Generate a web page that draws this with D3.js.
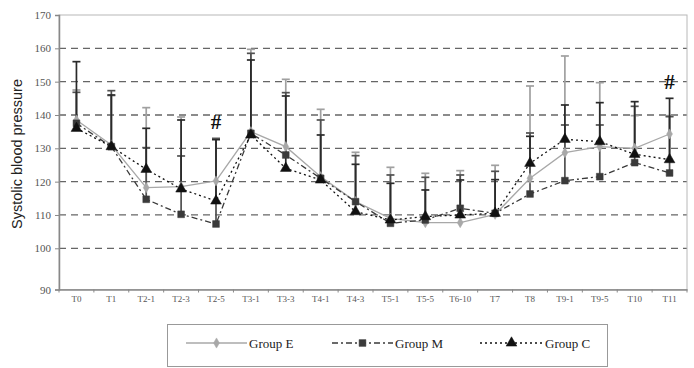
<!DOCTYPE html>
<html><head><meta charset="utf-8">
<script src="https://cdn.jsdelivr.net/npm/d3@7"></script>
<style>body{margin:0;background:#fff}svg{display:block}</style>
</head><body>
<script>
const categories = ["T0","T1","T2-1","T2-3","T2-5","T3-1","T3-3","T4-1","T4-3","T5-1","T5-5","T6-10","T7","T8","T9-1","T9-5","T10","T11"];
const groupE = [138.5,131,118.2,118.5,120.2,135,130.5,121.5,114,109,107.7,107.7,110.2,121,128.7,130.5,130,134.3];
const groupM = [137.5,130.5,114.7,110.2,107.3,134.5,128,121,114,107.5,108.5,112,110.5,116.3,120.3,121.5,125.7,122.6];
const groupC = [136,130.5,123.7,117.8,114.2,134,124,120.5,111,108.5,109.5,110,110.5,125.5,132.7,132,128.2,126.6];
const topE = [147.5,145.8,142.2,139.4,133.1,159.7,150.7,141.7,128.8,124.3,122.5,123.3,124.9,148.7,157.7,149.7,139.8,139.8];
const topM = [146.8,147.3,130.2,127.7,132.8,158.5,146.7,138.5,127.8,122.0,121.3,122.0,123.1,134.6,137.0,137.0,142.6,139.5];
const topC = [156.0,146.0,136.0,138.5,132.6,156.5,145.7,134.0,125.2,119.5,117.5,120.5,120.6,133.6,143.0,143.7,144.0,145.0];
const yTicks = [90,100,110,120,130,140,150,160,170];
const hashCats = ["T2-5","T11"];
const seriesNames = ["Group E","Group M","Group C"];

const W = 694, H = 368;
const L = 59, R = 687, T = 15, B = 289.5;
const svg = d3.select("body").append("svg").attr("width", W).attr("height", H);

const x = d3.scaleBand().domain(categories).range([L, R]);
const y = d3.scaleLinear().domain([90, 100, 170]).range([B, 248.3, T]);
const cx = c => x(c) + x.bandwidth() / 2;

// grid lines
svg.append("g").selectAll("line").data(yTicks.filter(v => v > 90 && v < 170)).join("line")
  .attr("x1", L).attr("x2", R).attr("y1", d => y(d)).attr("y2", d => y(d))
  .attr("stroke", "#666").attr("stroke-width", 1.3).attr("stroke-dasharray", "7,5");

// plot border
svg.append("rect").attr("x", L).attr("y", T).attr("width", R - L).attr("height", B - T)
  .attr("fill", "none").attr("stroke", "#b8b8b8").attr("stroke-width", 1);

// y axis
const yAxis = d3.axisLeft(y).tickValues(yTicks).tickSize(4).tickPadding(4);
const ga = svg.append("g").attr("transform", `translate(${L},0)`).call(yAxis);
ga.select(".domain").attr("stroke", "#888").attr("stroke-width", 1.5);
ga.selectAll(".tick line").attr("stroke", "#888");
ga.selectAll("text").attr("font-family", "Liberation Serif, serif").attr("font-size", 11).attr("fill", "#555");

// x axis
const xAxis = d3.axisBottom(x).tickSize(0).tickPadding(6);
const gx = svg.append("g").attr("transform", `translate(0,${B})`).call(xAxis);
gx.select(".domain").attr("stroke", "#888").attr("stroke-width", 1.5);
gx.selectAll("text").attr("font-family", "Liberation Serif, serif").attr("font-size", 9).attr("fill", "#555");
// boundary ticks
const bounds = categories.map(c => x(c)).concat([R]);
svg.append("g").selectAll("line").data(bounds).join("line")
  .attr("x1", d => d).attr("x2", d => d).attr("y1", B).attr("y2", B + 3)
  .attr("stroke", "#888");

// y label
svg.append("text").attr("transform", `translate(22,154) rotate(-90)`)
  .attr("text-anchor", "middle").attr("font-family", "Liberation Sans, Arial, sans-serif")
  .attr("font-size", 14.5).attr("fill", "#222").text("Systolic blood pressure");

const series = [
  {name: seriesNames[0], vals: groupE, tops: topE, color: "#a8a8a8", barColor: "#a0a0a0", dash: null, shape: "diamond"},
  {name: seriesNames[1], vals: groupM, tops: topM, color: "#3a3a3a", barColor: "#505050", dash: "6,3,2,3", shape: "square"},
  {name: seriesNames[2], vals: groupC, tops: topC, color: "#111", barColor: "#2a2a2a", dash: "2,3", shape: "triangle"}
];

// lines
const line = d3.line().x((d, i) => cx(categories[i])).y(d => y(d));
series.forEach(s => {
  svg.append("path").datum(s.vals).attr("d", line).attr("fill", "none")
    .attr("stroke", s.color).attr("stroke-width", 1.3)
    .attr("stroke-dasharray", s.dash);
});

// error bars
series.forEach(s => {
  const g = svg.append("g");
  categories.forEach((c, i) => {
    g.append("line").attr("x1", cx(c)).attr("x2", cx(c)).attr("y1", y(s.vals[i])).attr("y2", y(s.tops[i]))
      .attr("stroke", s.barColor).attr("stroke-width", 1.7);
    g.append("line").attr("x1", cx(c) - 4).attr("x2", cx(c) + 4).attr("y1", y(s.tops[i])).attr("y2", y(s.tops[i]))
      .attr("stroke", s.barColor).attr("stroke-width", 1.7);
  });
});

// markers
const sym = {diamond: d3.symbolDiamond, square: d3.symbolSquare, triangle: d3.symbolTriangle};
const size = {diamond: 30, square: 46, triangle: 50};
series.forEach(s => {
  svg.append("g").selectAll("path").data(s.vals).join("path")
    .attr("transform", (d, i) => `translate(${cx(categories[i])},${y(d)})`)
    .attr("d", d3.symbol().type(sym[s.shape]).size(size[s.shape]))
    .attr("fill", s.color).attr("stroke", s.color).attr("stroke-width", 0.5);
});

// # significance marks
hashCats.forEach(c => {
  const i = categories.indexOf(c);
  const t = Math.max(topE[i], topM[i], topC[i]);
  svg.append("text").attr("x", cx(c)).attr("y", y(t) - 9)
    .attr("text-anchor", "middle").attr("font-family", "Liberation Serif, serif")
    .attr("font-weight", "bold").attr("font-size", 21).attr("fill", "#111").text("#");
});

// legend
const lg = svg.append("g");
lg.append("rect").attr("x", 167.5).attr("y", 324.5).attr("width", 440).attr("height", 42)
  .attr("fill", "#fff").attr("stroke", "#999").attr("stroke-width", 1);
const legItems = [
  {x1: 186, x2: 247, tx: 249},
  {x1: 332, x2: 393, tx: 395},
  {x1: 480, x2: 543, tx: 545}
];
series.forEach((s, k) => {
  const it = legItems[k], ly = 343;
  lg.append("line").attr("x1", it.x1).attr("x2", it.x2).attr("y1", ly).attr("y2", ly)
    .attr("stroke", s.color).attr("stroke-width", 1.3).attr("stroke-dasharray", s.dash);
  lg.append("path").attr("transform", `translate(${(it.x1 + it.x2) / 2},${ly})`)
    .attr("d", d3.symbol().type(sym[s.shape]).size(size[s.shape]))
    .attr("fill", s.color).attr("stroke", s.color).attr("stroke-width", 0.5);
  lg.append("text").attr("x", it.tx).attr("y", ly).attr("dy", "0.35em")
    .attr("font-family", "Liberation Serif, serif").attr("font-size", 13).attr("fill", "#222")
    .text(s.name);
});
</script>
</body></html>
